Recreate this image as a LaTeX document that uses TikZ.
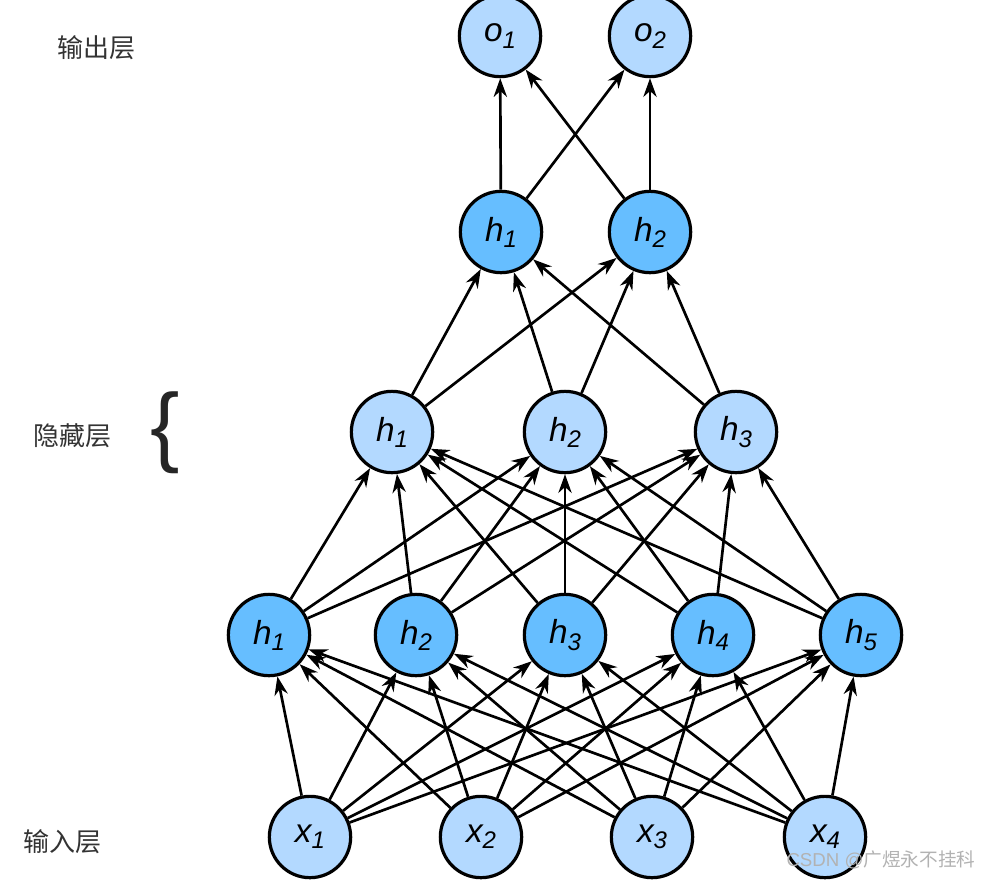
\documentclass[tikz,border=0pt]{standalone}
\usepackage{fontspec}
\setmainfont{Liberation Sans}
\newfontfamily\cjkfont{Noto Sans CJK SC}
\usetikzlibrary{positioning}
\usetikzlibrary{arrows.meta}
\definecolor{lightblue}{RGB}{179,217,255}
\definecolor{darkblue}{RGB}{102,190,255}
\newcommand{\neuron}[2]{\textit{#1\raisebox{-0.35ex}{\fontsize{18}{18}\selectfont #2}}}
\tikzstyle{lightnode} = [circle, minimum size=61pt, inner sep=0pt, draw=black, line width=2.4pt, fill=lightblue, font=\fontsize{25}{25}\selectfont]
\tikzstyle{darknode} = [lightnode, fill=darkblue]
\tikzstyle{layerlabel} = [font=\cjkfont\fontsize{19.5}{19.5}\selectfont, text=black!80]
\tikzstyle{arrow} = [line width=2pt,-{Stealth[length=14pt,width=10pt,inset=4.5pt]}]
\begin{document}
\begin{tikzpicture}[x=0.75pt, y=-0.75pt]
\useasboundingbox (0,0) rectangle (994,879);


% Layer names

	\node (outLabel) [layerlabel] at (96,48) {输出层};

	\node (hiddenLabel) [layerlabel] at (72,436) {隐藏层};

	\node (hiddenBrace) [font=\fontsize{66}{66}\selectfont, text=black!85] at (165,433) {\{};

	\node (inLabel) [layerlabel] at (62,842) {输入层};


% Input layer

	\node (x1) [lightnode] at (310,837) {\neuron{x}{1}};
	\node (x2) [lightnode] at (481,837) {\neuron{x}{2}};
	\node (x3) [lightnode] at (652,837) {\neuron{x}{3}};
	\node (x4) [lightnode] at (825,837) {\neuron{x}{4}};


% First hidden layer

	\node (hOne1) [darknode] at (269,635) {\neuron{h}{1}};
	\node (hOne2) [darknode] at (416,635) {\neuron{h}{2}};
	\node (hOne3) [darknode] at (565,635) {\neuron{h}{3}};
	\node (hOne4) [darknode] at (713,635) {\neuron{h}{4}};
	\node (hOne5) [darknode] at (861,635) {\neuron{h}{5}};


% Second hidden layer

	\node (hTwo1) [lightnode] at (392,432) {\neuron{h}{1}};
	\node (hTwo2) [lightnode] at (565,432) {\neuron{h}{2}};
	\node (hTwo3) [lightnode] at (736,432) {\neuron{h}{3}};


% Third hidden layer

	\node (hThree1) [darknode] at (501,232) {\neuron{h}{1}};
	\node (hThree2) [darknode] at (650,232) {\neuron{h}{2}};


% Output layer

	\node (o1) [lightnode] at (500,36) {\neuron{o}{1}};
	\node (o2) [lightnode] at (650,36) {\neuron{o}{2}};


% Watermark

	\node (csdnMark) [font=\fontsize{14}{14}\selectfont, text=gray!60] at (881,860) {CSDN @{\cjkfont 广煜永不挂科}};




% Input to first hidden
	\draw [arrow] (x1) -- (hOne1);
	\draw [arrow] (x1) -- (hOne2);
	\draw [arrow] (x1) -- (hOne3);
	\draw [arrow] (x1) -- (hOne4);
	\draw [arrow] (x1) -- (hOne5);

	\draw [arrow] (x2) -- (hOne1);
	\draw [arrow] (x2) -- (hOne2);
	\draw [arrow] (x2) -- (hOne3);
	\draw [arrow] (x2) -- (hOne4);
	\draw [arrow] (x2) -- (hOne5);

	\draw [arrow] (x3) -- (hOne1);
	\draw [arrow] (x3) -- (hOne2);
	\draw [arrow] (x3) -- (hOne3);
	\draw [arrow] (x3) -- (hOne4);
	\draw [arrow] (x3) -- (hOne5);

	\draw [arrow] (x4) -- (hOne1);
	\draw [arrow] (x4) -- (hOne2);
	\draw [arrow] (x4) -- (hOne3);
	\draw [arrow] (x4) -- (hOne4);
	\draw [arrow] (x4) -- (hOne5);


% First hidden to second hidden
	\draw [arrow] (hOne1) -- (hTwo1);
	\draw [arrow] (hOne1) -- (hTwo2);
	\draw [arrow] (hOne1) -- (hTwo3);

	\draw [arrow] (hOne2) -- (hTwo1);
	\draw [arrow] (hOne2) -- (hTwo2);
	\draw [arrow] (hOne2) -- (hTwo3);

	\draw [arrow] (hOne3) -- (hTwo1);
	\draw [arrow] (hOne3) -- (hTwo2);
	\draw [arrow] (hOne3) -- (hTwo3);

	\draw [arrow] (hOne4) -- (hTwo1);
	\draw [arrow] (hOne4) -- (hTwo2);
	\draw [arrow] (hOne4) -- (hTwo3);

	\draw [arrow] (hOne5) -- (hTwo1);
	\draw [arrow] (hOne5) -- (hTwo2);
	\draw [arrow] (hOne5) -- (hTwo3);


% Second hidden to third hidden
	\draw [arrow] (hTwo1) -- (hThree1);
	\draw [arrow] (hTwo1) -- (hThree2);

	\draw [arrow] (hTwo2) -- (hThree1);
	\draw [arrow] (hTwo2) -- (hThree2);

	\draw [arrow] (hTwo3) -- (hThree1);
	\draw [arrow] (hTwo3) -- (hThree2);


% Third hidden to output
	\draw [arrow] (hThree1) -- (o1);
	\draw [arrow] (hThree1) -- (o2);

	\draw [arrow] (hThree2) -- (o1);
	\draw [arrow] (hThree2) -- (o2);


	\end{tikzpicture}
\end{document}
